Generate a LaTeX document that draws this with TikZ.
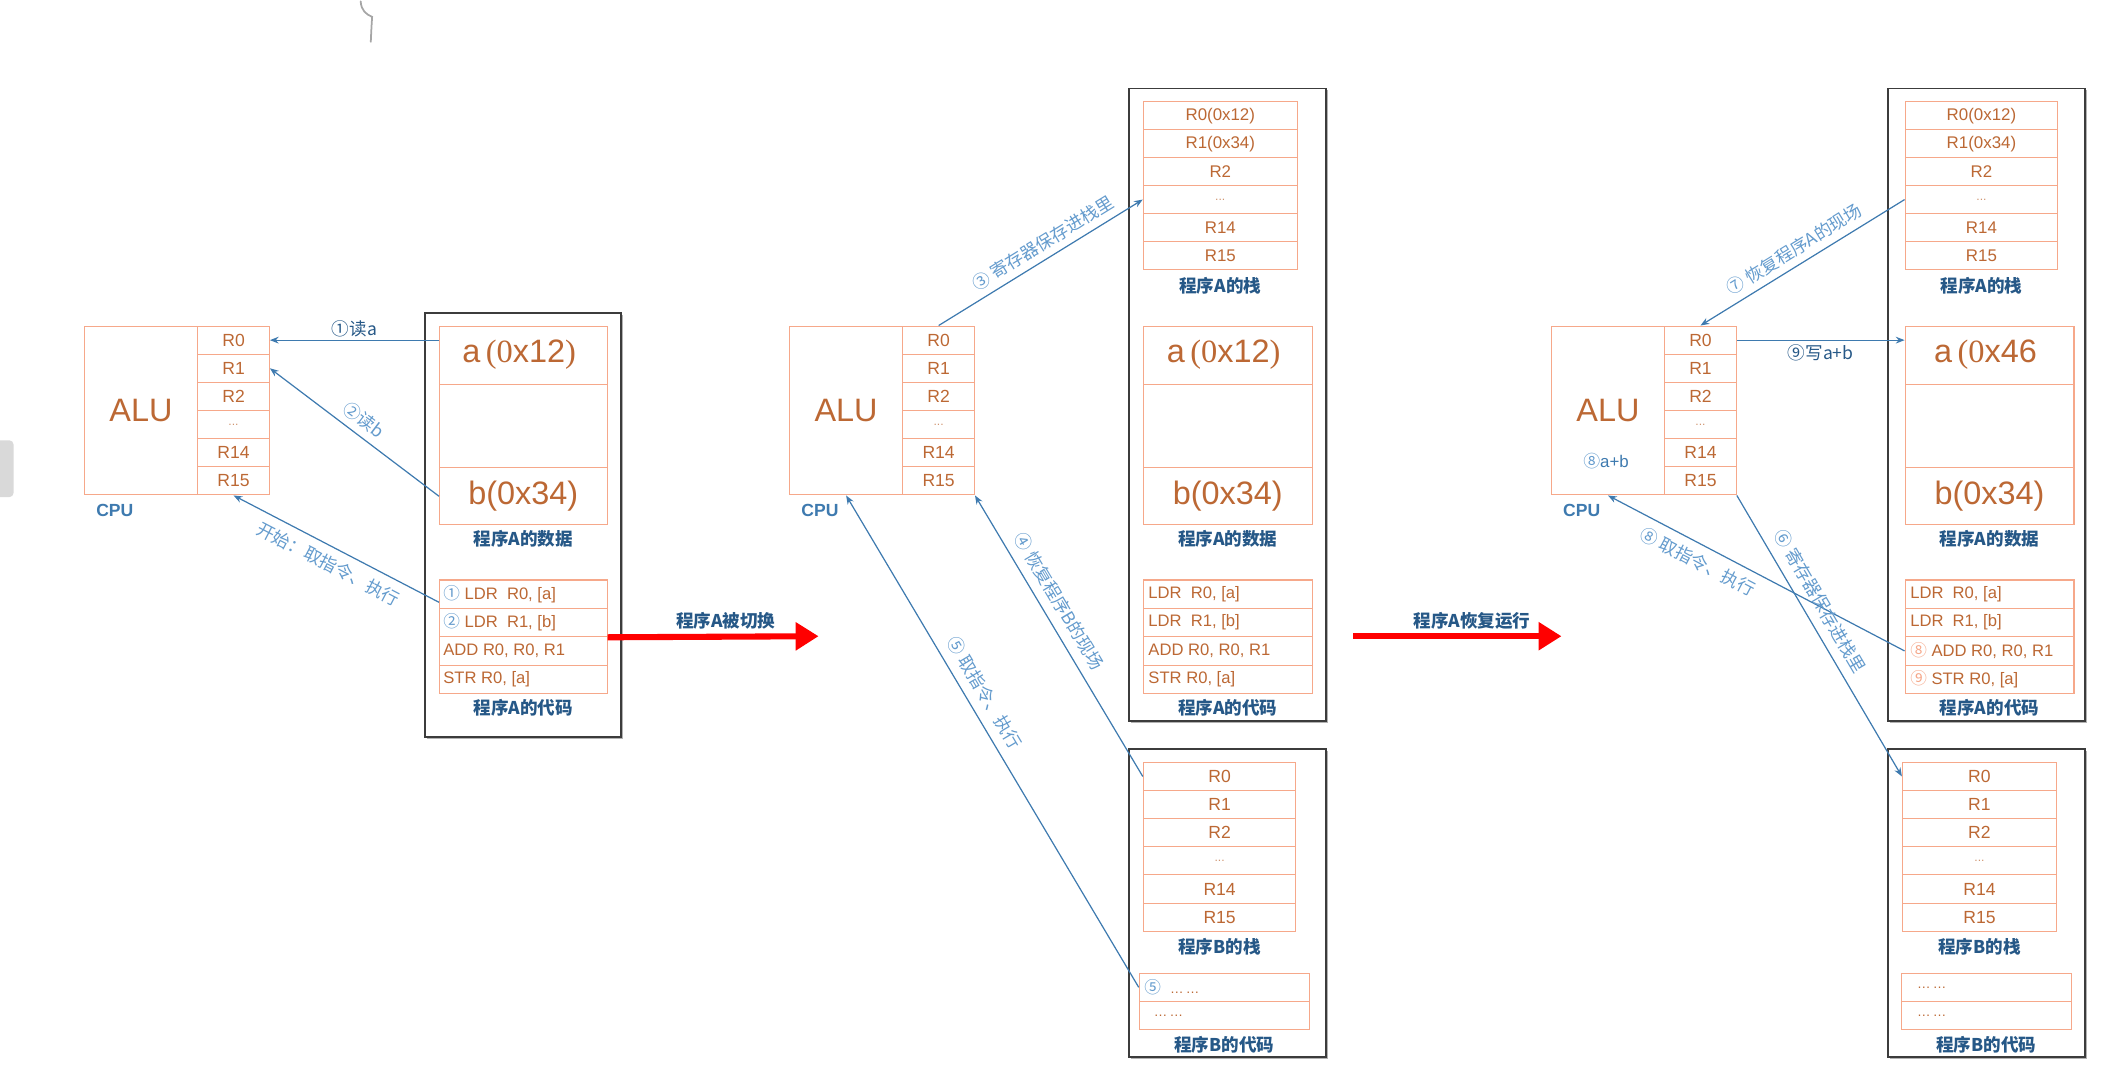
\documentclass[tikz,border=0pt]{standalone}
\usepackage{fontspec}
\setmainfont{Liberation Sans}
\setsansfont{Liberation Sans}
\newfontfamily\cjk{Noto Sans CJK SC}
\newfontfamily\serifa{Liberation Serif}
\usetikzlibrary{arrows.meta,calc,shadows}
\definecolor{boxc}{RGB}{246,168,138}
\definecolor{txtc}{RGB}{188,104,52}
\definecolor{arrc}{RGB}{62,122,175}
\definecolor{labc}{RGB}{38,88,135}
\definecolor{lblc}{RGB}{100,155,205}
\definecolor{outc}{RGB}{60,60,60}
\newcommand{\rdots}{\textcolor{txtc!70}{\fontsize{9}{9}\selectfont...}}
\newcommand{\sixdots}{{\fontsize{10}{10}\selectfont\textcolor{txtc}{…\,…}}}
\begin{document}
\begin{tikzpicture}[x=1pt,y=-1pt,
  cell/.style={draw=boxc,line width=0.8pt,inner sep=0pt,anchor=north west,text=txtc,font=\fontsize{13}{15}\selectfont},
  alubox/.style={draw=boxc,line width=0.8pt,inner sep=0pt,anchor=north west,text=txtc,font=\fontsize{24}{28}\selectfont,minimum width=84pt,minimum height=125pt},
  outbox/.style={draw=outc,line width=1.2pt,fill=white,anchor=north west,inner sep=0pt,drop shadow={shadow xshift=1.4pt,shadow yshift=-1.4pt,fill=black!30,opacity=1}},
  codetxt/.style={anchor=west,inner sep=0pt,text=txtc,font=\fontsize{12.3}{14}\selectfont},
  bigtxt/.style={inner sep=0pt,text=txtc,font=\fontsize{24}{28}\selectfont},
  boxlab/.style={text=labc,font=\cjk\bfseries\fontsize{13}{15}\selectfont,inner sep=1pt},
  cpulab/.style={text=arrc,font=\bfseries\fontsize{13}{15}\selectfont},
  arr/.style={draw=arrc,line width=0.9pt,-{Stealth[length=6.5pt,width=5pt]}},
  lab/.style={text=lblc,font=\cjk\fontsize{13}{15}\selectfont,inner sep=1pt},
  labd/.style={text=labc,font=\cjk\fontsize{13}{15}\selectfont,inner sep=1pt},
  redarr/.style={draw=red,line width=4.5pt,-{Triangle[length=17pt,width=20pt]}},
  redlab/.style={text=labc,font=\cjk\bfseries\fontsize{13}{15}\selectfont,inner sep=3pt},
]
\useasboundingbox (0,0) rectangle (1568,802);

% stray marks of the screenshot
\fill[gray!30,rounded corners=3pt] (-6,326) rectangle (10,368);
\draw[gray!70,line width=1.3pt,line cap=round] (267,1) .. controls (267.5,8) and (271,10.5) .. (275.5,12.5) .. controls (275,20) .. (274.5,31);

% outer program boxes
\node[outbox,minimum width=145pt,minimum height=314pt] (pa1) at (314,231) {};
\node[outbox,minimum width=146pt,minimum height=468pt] (pa2) at (835,65) {};
\node[outbox,minimum width=146pt,minimum height=468pt] (pa3) at (1397,65) {};
\node[outbox,minimum width=146pt,minimum height=228pt] (pb2) at (835,554) {};
\node[outbox,minimum width=146pt,minimum height=228pt] (pb3) at (1397,554) {};

% CPUs
\foreach \p/\x in {1/62,2/584,3/1148}{
  \node[alubox] (alu\p) at (\x,241) {ALU};
  \foreach \t [count=\i from 0] in {R0,R1,R2,\rdots,R14,R15}
    \node[cell,minimum width=53pt,minimum height=20.83pt] (r\p-\i) at (\x+84,241+20.83*\i) {\t};
  \node[cpulab] (cpu\p) at (\x+23,378) {CPU};
}
\node[font=\fontsize{12.5}{14}\selectfont,text=arrc,inner sep=0pt] (note3) at (1189,341) {{\cjk\color{lblc}⑧}a+b};

% data of program A
\foreach \p/\x/\w in {1/325/124,2/846/125,3/1410/125}{
  \node[cell,minimum width=\w pt,minimum height=43pt] (da\p) at (\x,241) {};
  \node[cell,minimum width=\w pt,minimum height=62pt] (dm\p) at (\x,284) {};
  \node[cell,minimum width=\w pt,minimum height=42pt,font=\fontsize{24}{28}\selectfont] (db\p) at (\x,346) {b(0x34)};
  \node[boxlab] (ldA\p) at ($(db\p.south)+(0,10)$) {程序A的数据};
  \foreach \i in {0,1,2,3}
    \node[cell,minimum width=\w pt,minimum height=21pt] (ca\p-\i) at (\x,429+21*\i) {};
  \node[boxlab] (lcA\p) at ($(ca\p-3.south)+(0,10)$) {程序A的代码};
}
\node[bigtxt] (at1) at ($(da1.center)+(-3,0)$) {a\,{\serifa(0}x12{\serifa)}};
\node[bigtxt] (at2) at ($(da2.center)+(-3,0)$) {a\,{\serifa(0}x12{\serifa)}};
\node[bigtxt] (at3) at ($(da3.center)+(-3,0)$) {a\,{\serifa(0}x46};

% code of program A
\node[codetxt] (ta1-0) at ($(ca1-0.west)+(3,0)$) {{\cjk\color{lblc}①} LDR\ \ R0, [a]};
\node[codetxt] (ta1-1) at ($(ca1-1.west)+(3,0)$) {{\cjk\color{lblc}②} LDR\ \ R1, [b]};
\node[codetxt] (ta1-2) at ($(ca1-2.west)+(3,0)$) {ADD R0, R0, R1};
\node[codetxt] (ta1-3) at ($(ca1-3.west)+(3,0)$) {STR R0, [a]};
\node[codetxt] (ta2-0) at ($(ca2-0.west)+(4,0)$) {LDR\ \ R0, [a]};
\node[codetxt] (ta2-1) at ($(ca2-1.west)+(4,0)$) {LDR\ \ R1, [b]};
\node[codetxt] (ta2-2) at ($(ca2-2.west)+(4,0)$) {ADD R0, R0, R1};
\node[codetxt] (ta2-3) at ($(ca2-3.west)+(4,0)$) {STR R0, [a]};
\node[codetxt] (ta3-0) at ($(ca3-0.west)+(4,0)$) {LDR\ \ R0, [a]};
\node[codetxt] (ta3-1) at ($(ca3-1.west)+(4,0)$) {LDR\ \ R1, [b]};
\node[codetxt] (ta3-2) at ($(ca3-2.west)+(4,0)$) {{\cjk\color{boxc}⑧} ADD R0, R0, R1};
\node[codetxt] (ta3-3) at ($(ca3-3.west)+(4,0)$) {{\cjk\color{boxc}⑨} STR R0, [a]};

% stack of program A
\foreach \p/\x/\w in {2/846/114,3/1410/113}{
  \foreach \t [count=\i from 0] in {R0(0x12),R1(0x34),R2,\rdots,R14,R15}
    \node[cell,minimum width=\w pt,minimum height=20.67pt,font=\fontsize{12.5}{14}\selectfont] (sa\p-\i) at (\x,75+20.67*\i) {\t};
  \node[boxlab] (lsA\p) at ($(sa\p-5.south)+(0,12)$) {程序A的栈};
}

% stack and code of program B
\foreach \p/\x/\w/\c in {2/846/113/843,3/1408/114/1407}{
  \foreach \t [count=\i from 0] in {R0,R1,R2,\rdots,R14,R15}
    \node[cell,minimum width=\w pt,minimum height=20.83pt] (sb\p-\i) at (\x,564+20.83*\i) {\t};
  \node[boxlab] (lsB\p) at ($(sb\p-5.south)+(0,11)$) {程序B的栈};
  \foreach \i in {0,1}
    \node[cell,minimum width=126pt,minimum height=21pt] (cb\p-\i) at (\c,720+21*\i) {};
  \node[boxlab] (lcB\p) at ($(cb\p-1.south)+(0,11)$) {程序B的代码};
}
\node[codetxt] (tb2-0) at ($(cb2-0.west)+(4,0)$) {{\cjk\color{lblc}⑤}\ \ \sixdots};
\node[codetxt] (tb2-1) at ($(cb2-1.west)+(11,0)$) {\sixdots};
\node[codetxt] (tb3-0) at ($(cb3-0.west)+(12,0)$) {\sixdots};
\node[codetxt] (tb3-1) at ($(cb3-1.west)+(12,0)$) {\sixdots};

% connectors, panel 1
\draw[arr] (da1.west |- r1-0.east) -- node[labd,above=1pt]{①读a} (r1-0.east);
\draw[arr] (db1.west) -- node[lab,sloped,above=4pt]{②读b} (r1-1.east);
\draw[arr] ($(ca1-0.west)+(0,6)$) -- node[lab,sloped,below=5pt]{开始：取指令、执行} (r1-5.south);

% connectors, panel 2
\draw[arr] (r2-0.north) -- node[lab,sloped,above=4pt,pos=0.55]{③ 寄存器保存进栈里} (sa2-3.west);
\draw[arr] (sb2-0.west) -- node[lab,sloped,above=6pt,pos=0.59]{④ 恢复程序B的现场} (r2-5.south east);
\draw[arr] (cb2-0.west) -- node[lab,sloped,above=6pt,pos=0.58]{⑤ 取指令、执行} (alu2.south);

% connectors, panel 3
\draw[arr] (sa3-3.west) -- node[lab,sloped,above=4pt]{⑦ 恢复程序A的现场} (r3-0.north);
\draw[arr] (r3-0.east) -- node[labd,below=2pt]{⑨写a+b} (da3.west |- r3-0.east);
\draw[arr] (ca3-2.west) -- node[lab,sloped,below=5pt,pos=0.67]{⑧ 取指令、执行} (alu3.south);
\draw[arr] (r3-5.south east) -- node[lab,sloped,above=6pt,pos=0.41]{⑥ 寄存器保存进栈里} (sb3-0.west);

% red transitions
\coordinate (re1) at (606,471);
\draw[redarr] (ca1-1.south east) -- node[redlab,above,pos=0.56]{程序A被切换} (re1);
\coordinate (rs2) at (1002,471);
\coordinate (re2) at (1156,471);
\draw[redarr] (rs2) -- node[redlab,above,pos=0.57]{程序A恢复运行} (re2);
\end{tikzpicture}
\end{document}
